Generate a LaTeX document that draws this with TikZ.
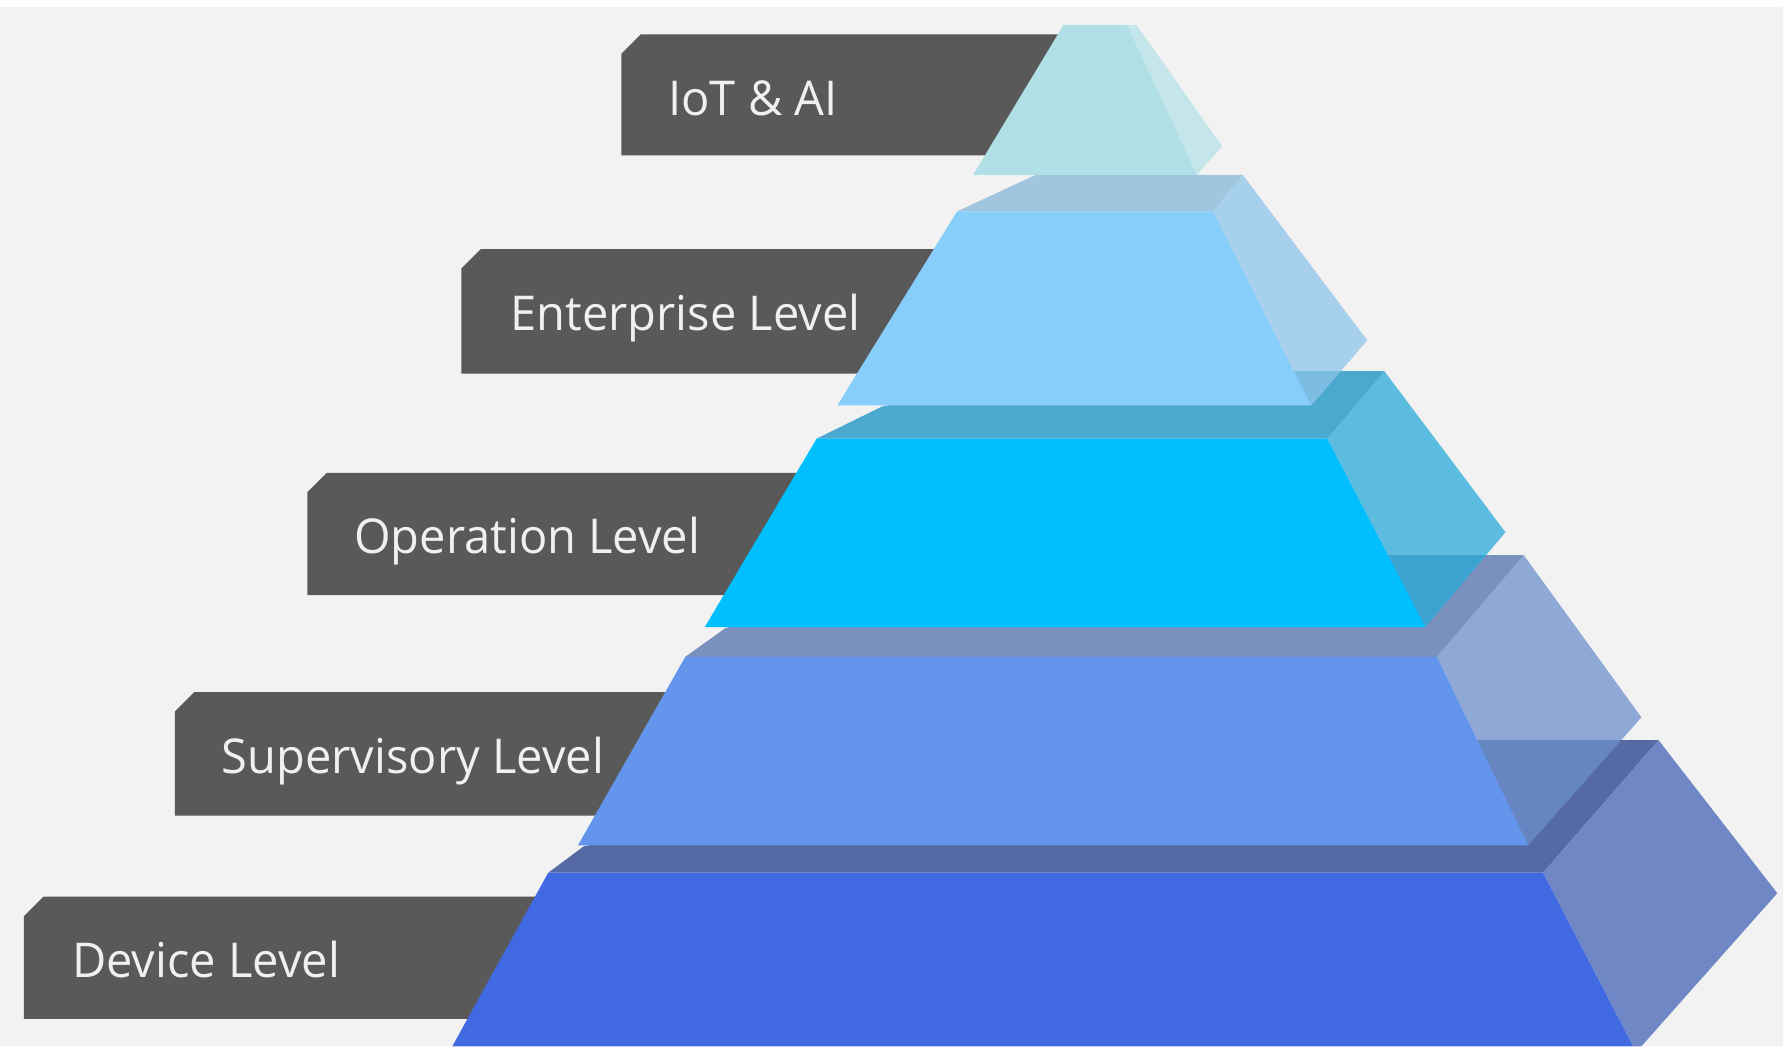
\documentclass[tikz,border=0pt]{standalone}
\usepackage{fontspec}
\newfontfamily\lblfont[FakeStretch=0.98]{Open Sans}
\definecolor{bgcol}{HTML}{F2F2F2}
\definecolor{boxgray}{HTML}{595959}
\definecolor{lbltxt}{HTML}{F0F0F0}
\definecolor{devfront}{HTML}{4169E1}
\definecolor{devtop}{HTML}{5569A5}
\definecolor{devside}{HTML}{7087C6}
\definecolor{supfront}{HTML}{6495ED}
\definecolor{suptop}{HTML}{7A91BE}
\definecolor{supside}{HTML}{6D91CD}
\definecolor{opfront}{HTML}{00BFFF}
\definecolor{optop}{HTML}{4BA8CE}
\definecolor{opside}{HTML}{29ABDA}
\definecolor{entfront}{HTML}{87CEFA}
\definecolor{enttop}{HTML}{A2C5DF}
\definecolor{entside}{HTML}{8FC5EA}
\definecolor{iotfront}{HTML}{B0E0E6}
\definecolor{iotside}{HTML}{C4E6EB}
\tikzset{
  lblbox/.style={fill=boxgray},
  lbltext/.style={text=lbltxt, font=\lblfont\fontsize{42}{50}\selectfont, anchor=base west, inner sep=0pt},
  sideface/.style={fill opacity=0.75}
}
\begin{document}
\begin{tikzpicture}[x=1pt,y=-1pt]
\useasboundingbox (0,0) rectangle (1568,916);
\fill[white] (0,0) rectangle (1568,916);
\fill[bgcol] (0,6) rectangle (1561,916);

% label boxes
\fill[lblbox] (544,47) -- (561,30) -- (960,30) -- (960,136) -- (544,136) -- cycle;
\fill[lblbox] (404,235) -- (421,218) -- (850,218) -- (850,327) -- (404,327) -- cycle;
\fill[lblbox] (269,431) -- (286,414) -- (730,414) -- (730,521) -- (269,521) -- cycle;
\fill[lblbox] (153,623) -- (170,606) -- (620,606) -- (620,714) -- (153,714) -- cycle;
\fill[lblbox] (21,802) -- (38,785) -- (500,785) -- (500,892) -- (21,892) -- cycle;

\node[lbltext] (t1) at (585,101) {IoT \& AI};
\node[lbltext] (t2) at (447,289) {Enterprise Level};
\node[lbltext] (t3) at (310,485) {Operation Level};
\node[lbltext] (t4) at (194,677) {Supervisory Level};
\node[lbltext] (t5) at (63,856) {Device Level};

% Device level
\fill[devtop] (480,764) -- (511,741) -- (530,737) -- (1000,737) -- (1000,648) -- (1452,648) -- (1351,764) -- cycle;
\fill[devfront] (480,764) -- (1351,764) -- (1430,916) -- (396,916) -- cycle;
\fill[devside] (1351,764) -- (1452,648) -- (1556,782) -- (1437,916) -- (1430,916) -- cycle;

% Supervisory level
\fill[suptop] (600,575) -- (635,550) -- (650,546) -- (900,546) -- (900,486) -- (1334,486) -- (1258,575) -- cycle;
\fill[supfront] (600,575) -- (1258,575) -- (1338,740) -- (506,740) -- cycle;
\fill[supside,sideface] (1258,575) -- (1334,486) -- (1437,628) -- (1338,740) -- cycle;

% Operation level
\fill[optop] (715,384) -- (772,356) -- (790,352) -- (950,352) -- (950,325) -- (1212,325) -- (1162,384) -- cycle;
\fill[opfront] (715,384) -- (1162,384) -- (1248,549) -- (617,549) -- cycle;
\fill[opside,sideface] (1162,384) -- (1212,325) -- (1318,466) -- (1248,549) -- cycle;

% Enterprise level
\fill[enttop] (838,185) -- (907,153) -- (1088,153) -- (1062,185) -- cycle;
\fill[entfront] (838,185) -- (1062,185) -- (1148,355) -- (733,355) -- cycle;
\fill[entside,sideface] (1062,185) -- (1088,153) -- (1197,298) -- (1148,355) -- cycle;

% IoT & AI
\fill[iotfront] (931,22) -- (987,22) -- (1048,153) -- (852,153) -- cycle;
\fill[iotside] (987,22) -- (995,22) -- (1070,128) -- (1048,153) -- cycle;
\end{tikzpicture}
\end{document}
